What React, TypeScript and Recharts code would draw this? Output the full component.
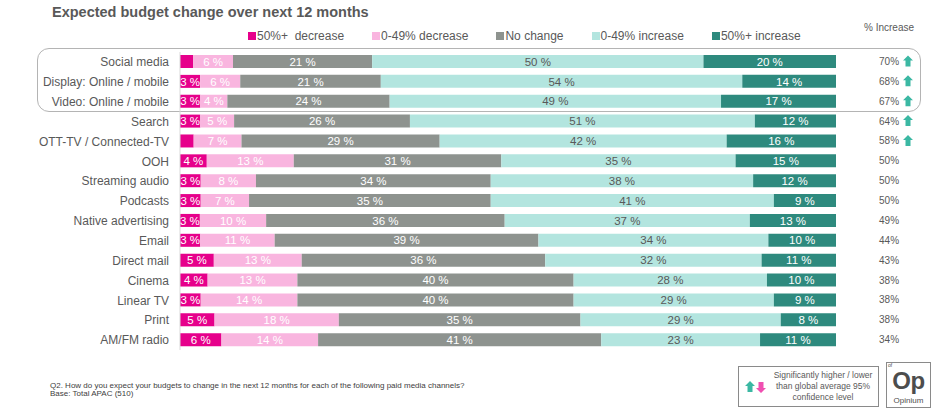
import { BarChart, Bar, XAxis, YAxis, LabelList } from 'recharts';

const channels = [
    'Social media',
    'Display: Online / mobile',
    'Video: Online / mobile',
    'Search',
    'OTT-TV / Connected-TV',
    'OOH',
    'Streaming audio',
    'Podcasts',
    'Native advertising',
    'Email',
    'Direct mail',
    'Cinema',
    'Linear TV',
    'Print',
    'AM/FM radio',
];

// shares per answer (unlabelled slivers estimated)
const decrease50 = [2, 3, 3, 3, 2, 4, 3, 3, 3, 3, 5, 4, 3, 5, 6];
const decrease049 = [6, 6, 4, 5, 7, 13, 8, 7, 10, 11, 13, 13, 14, 18, 14];
const noChange = [21, 21, 24, 26, 29, 31, 34, 35, 36, 39, 36, 40, 40, 35, 41];
const increase049 = [50, 54, 49, 51, 42, 35, 38, 41, 37, 34, 32, 28, 29, 29, 23];
const increase50 = [20, 14, 17, 12, 16, 15, 12, 9, 13, 10, 11, 10, 9, 8, 11];

// right hand "% Increase" column and which rows get the arrow
const pctIncrease = [70, 68, 67, 64, 58, 50, 50, 50, 49, 44, 43, 38, 38, 38, 34];
const significant = [true, true, true, true, true, false, false, false, false, false, false, false, false, false, false];

const series = [
    { key: 'dec50', name: '50%+  decrease', color: '#e6008b', text: '#ffffff' },
    { key: 'dec049', name: '0-49% decrease', color: '#f9b5df', text: '#ffffff' },
    { key: 'none', name: 'No change', color: '#8e938f', text: '#ffffff' },
    { key: 'inc049', name: '0-49% increase', color: '#b3e5df', text: '#595959' },
    { key: 'inc50', name: '50%+ increase', color: '#2e8a7e', text: '#ffffff' },
];

const data = channels.map((name, i) => ({
    name,
    dec50: decrease50[i],
    dec049: decrease049[i],
    none: noChange[i],
    inc049: increase049[i],
    inc50: increase50[i],
    increase: pctIncrease[i],
}));

const FONT = '"Liberation Sans", Arial, sans-serif';
const GREY_TEXT = '#595959';
const ARROW = '#3bb8a3';

const segmentLabel = (color: string) => (props: any) => {
    const { x, y, width, height, value } = props;
    if (value == null || value < 3) return null;
    return (
        <text
            x={Number(x) + Number(width) / 2}
            y={Number(y) + Number(height) / 2}
            dy="0.36em"
            textAnchor="middle"
            fill={color}
            fontSize={11.5}
            fontFamily={FONT}
        >
            {value} %
        </text>
    );
};

const IncreaseLabel = (props: any) => {
    const { x, y, width, height, value, index } = props;
    const tx = Number(x) + Number(width) + 43;
    const cy = Number(y) + Number(height) / 2;
    return (
        <g>
            <text x={tx} y={cy} dy="0.35em" fill={GREY_TEXT} fontSize={10} fontFamily={FONT}>
                {value}%
            </text>
            {significant[index] && (
                <path
                    d={`M${tx + 29} ${cy - 6} L${tx + 34} ${cy - 1} L${tx + 31.5} ${cy - 1} L${tx + 31.5} ${cy + 5} L${tx + 26.5} ${cy + 5} L${tx + 26.5} ${cy - 1} L${tx + 24} ${cy - 1} Z`}
                    fill={ARROW}
                />
            )}
        </g>
    );
};

export default function App() {
    return (
        <div style={{ position: 'absolute', left: 0, top: 0, width: 936, height: 414, background: '#fff', fontFamily: FONT, overflow: 'hidden' }}>
            <div style={{ position: 'absolute', left: 52, top: 4, fontSize: 14.5, fontWeight: 'bold', color: GREY_TEXT }}>
                Expected budget change over next 12 months
            </div>

            {/* legend */}
            <div style={{ position: 'absolute', left: 248, top: 29, display: 'flex', gap: 28, fontSize: 12, color: GREY_TEXT, whiteSpace: 'pre' }}>
                {series.map(s => (
                    <div key={s.key} style={{ display: 'flex', alignItems: 'center' }}>
                        <span style={{ display: 'inline-block', width: 8, height: 8, background: s.color, marginRight: 1 }} />
                        <span>{s.name}</span>
                    </div>
                ))}
            </div>

            <div style={{ position: 'absolute', left: 864, top: 22, fontSize: 10, color: GREY_TEXT }}>% Increase</div>

            {/* rounded box around the top three channels */}
            <div style={{ position: 'absolute', left: 37, top: 48, width: 882, height: 62, border: '1.5px solid #b4b4b4', borderRadius: 12 }} />

            <div style={{ position: 'absolute', left: 0, top: 0 }}>
                <BarChart
                    width={936}
                    height={414}
                    data={data}
                    layout="vertical"
                    stackOffset="expand"
                    barSize={13}
                    margin={{ top: 52, right: 100, bottom: 64, left: 0 }}
                >
                    <XAxis type="number" hide domain={[0, 1]} />
                    <YAxis
                        type="category"
                        dataKey="name"
                        width={180}
                        interval={0}
                        tickLine={false}
                        tickSize={0}
                        tickMargin={11}
                        axisLine={{ stroke: '#d9d9d9' }}
                        tick={{ fontSize: 12, fill: GREY_TEXT, fontFamily: FONT }}
                    />
                    {series.map(s => (
                        <Bar key={s.key} dataKey={s.key} name={s.name} stackId="a" fill={s.color} isAnimationActive={false}>
                            <LabelList dataKey={s.key} content={segmentLabel(s.text)} />
                            {s.key === 'inc50' && <LabelList dataKey="increase" content={IncreaseLabel} />}
                        </Bar>
                    ))}
                </BarChart>
            </div>

            {/* footnote */}
            <div style={{ position: 'absolute', left: 50, top: 382, fontSize: 8, lineHeight: '8px', color: '#404040' }}>
                Q2. How do you expect your budgets to change in the next 12 months for each of the following paid media channels?
                <br />
                Base: Total APAC (510)
            </div>

            {/* significance key */}
            <div style={{ position: 'absolute', left: 738, top: 366, width: 139, height: 39, border: '1px solid #8a8a8a', display: 'flex', alignItems: 'center' }}>
                <svg width={24} height={14} style={{ marginLeft: 5 }}>
                    <path d="M6 1 L11 6 L8.5 6 L8.5 12 L3.5 12 L3.5 6 L1 6 Z" fill={ARROW} />
                    <path d="M17 13 L22 8 L19.5 8 L19.5 2 L14.5 2 L14.5 8 L12 8 Z" fill="#f04fb1" />
                </svg>
                <div style={{ flex: 1, textAlign: 'center', fontSize: 8.5, lineHeight: '11px', color: GREY_TEXT }}>
                    Significantly higher / lower
                    <br />
                    than global average 95%
                    <br />
                    confidence level
                </div>
            </div>

            {/* Opinium mark */}
            <div style={{ position: 'absolute', left: 886, top: 362, width: 43, height: 44, border: '1px solid #8a8a8a', color: '#4d4d4d' }}>
                <div style={{ position: 'absolute', left: 1, top: 0, fontSize: 5, lineHeight: '5px' }}>of</div>
                <div style={{ position: 'absolute', left: 0, top: 4, width: 43, textAlign: 'center', fontSize: 24, fontWeight: 'bold', lineHeight: '27px', letterSpacing: -0.5 }}>Op</div>
                <div style={{ position: 'absolute', left: 0, top: 33, width: 43, textAlign: 'center', fontSize: 8, lineHeight: '9px' }}>Opinium</div>
            </div>
        </div>
    );
}
